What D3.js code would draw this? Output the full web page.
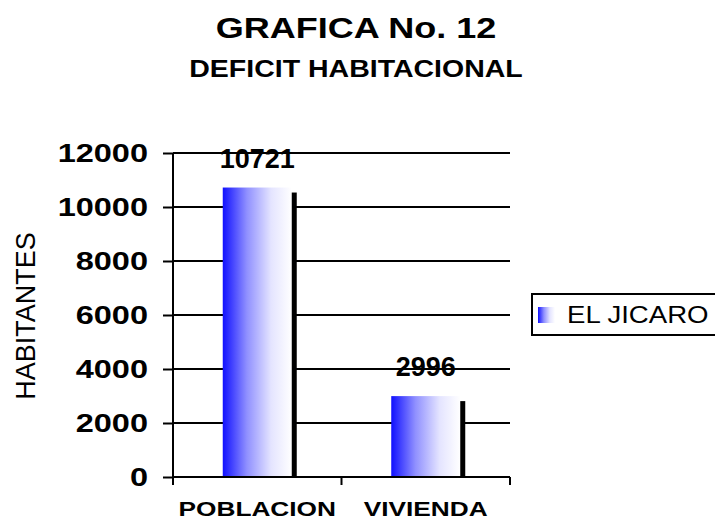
<!DOCTYPE html>
<html>
<head>
<meta charset="utf-8">
<script src="https://cdn.jsdelivr.net/npm/d3@7"></script>
<style>
  body { margin: 0; background: #fff; }
  text { font-family: "Liberation Sans", Arial, sans-serif; fill: #000; }
</style>
</head>
<body>
<div id="chart"></div>
<script>
let categories = ['POBLACION', 'VIVIENDA'];
let values = [10721, 2996];
let yTicks = [0, 2000, 4000, 6000, 8000, 10000, 12000];
let seriesName = 'EL JICARO';

let width = 715;
let height = 523;
let plot = { left: 173, right: 510, top: 153, bottom: 477 };

let svg = d3.select('#chart')
  .append('svg')
  .attr('width', width)
  .attr('height', height);

let grad = svg.append('defs').append('linearGradient')
  .attr('id', 'barGrad')
  .attr('x1', '0%').attr('x2', '100%').attr('y1', '0%').attr('y2', '0%');
[[0, '#1010ff'], [0.35, '#9090ff'], [0.7, '#e4e4ff'], [1, '#ffffff']].forEach(s => {
  grad.append('stop').attr('offset', s[0]).attr('stop-color', s[1]);
});

let x = d3.scaleBand()
  .domain(categories)
  .range([plot.left, plot.right])
  .paddingInner(0)
  .paddingOuter(0);

let y = d3.scaleLinear()
  .domain([0, 12000])
  .range([plot.bottom, plot.top]);

// helper for horizontally stretched text
function label(g, tx, ty, str, size, weight, anchor, sx) {
  return g.append('text')
    .attr('transform', `translate(${tx},${ty}) scale(${sx},1)`)
    .attr('text-anchor', anchor)
    .style('font-size', size + 'px')
    .style('font-weight', weight)
    .text(str);
}

// gridlines
svg.append('g')
  .selectAll('line')
  .data(yTicks.slice(1))
  .enter()
  .append('line')
  .attr('x1', plot.left).attr('x2', plot.right)
  .attr('y1', d => y(d)).attr('y2', d => y(d))
  .attr('stroke', '#000')
  .attr('stroke-width', 2);

// bars
let barW = 69;
let bars = svg.append('g')
  .selectAll('g')
  .data(values)
  .enter()
  .append('g');

bars.append('rect')
  .attr('x', (d, i) => x(categories[i]) + x.bandwidth() / 2 + barW / 2 - 1)
  .attr('y', d => y(d) + 5)
  .attr('width', 6)
  .attr('height', d => plot.bottom - y(d) - 5)
  .attr('fill', '#000');

bars.append('rect')
  .attr('x', (d, i) => x(categories[i]) + x.bandwidth() / 2 - barW / 2)
  .attr('y', d => y(d))
  .attr('width', barW)
  .attr('height', d => plot.bottom - y(d))
  .attr('fill', 'url(#barGrad)');

// axes
let yAxis = svg.append('g')
  .attr('transform', `translate(${plot.left},0)`)
  .call(d3.axisLeft(y).tickValues(yTicks).tickSize(10).tickFormat(''));
let xAxis = svg.append('g')
  .attr('transform', `translate(0,${plot.bottom})`)
  .call(d3.axisBottom(x).tickSize(0).tickFormat(''));
[yAxis, xAxis].forEach(a => {
  a.selectAll('path, line').attr('stroke', '#000').attr('stroke-width', 2);
  a.select('.domain').attr('d', a === yAxis
    ? `M0,${plot.top}V${plot.bottom}`
    : `M${plot.left},0H${plot.right}`);
});

// x category tick marks at band edges
svg.append('g')
  .selectAll('line')
  .data([plot.left].concat(categories.map(c => x(c) + x.bandwidth())))
  .enter()
  .append('line')
  .attr('x1', d => d).attr('x2', d => d)
  .attr('y1', plot.bottom).attr('y2', plot.bottom + 8)
  .attr('stroke', '#000').attr('stroke-width', 2);

let txt = svg.append('g');

// y tick labels
yTicks.forEach(t => label(txt, 148, y(t) + 9, String(t), 25, 'bold', 'end', 1.3));

// value labels
values.forEach((v, i) => label(txt, x(categories[i]) + x.bandwidth() / 2, y(v) - 20, String(v), 27, 'bold', 'middle', 1.0));

// category labels
categories.forEach(c => label(txt, x(c) + x.bandwidth() / 2, 516, c, 21, 'bold', 'middle', 1.25));

// titles
label(txt, 356, 38, 'GRAFICA No. 12', 30, 'bold', 'middle', 1.2);
label(txt, 356, 77, 'DEFICIT HABITACIONAL', 23, 'bold', 'middle', 1.24);

// y axis title
txt.append('text')
  .attr('transform', 'translate(35,316) rotate(-90)')
  .attr('text-anchor', 'middle')
  .style('font-size', '27px')
  .text('HABITANTES');

// legend
let legend = svg.append('g');
legend.append('rect')
  .attr('x', 532).attr('y', 294)
  .attr('width', 200).attr('height', 41)
  .attr('fill', '#fff')
  .attr('stroke', '#000').attr('stroke-width', 2);
legend.append('rect')
  .attr('x', 538).attr('y', 307)
  .attr('width', 17).attr('height', 16)
  .attr('fill', 'url(#barGrad)');
label(legend, 567, 323, seriesName, 23, 'normal', 'start', 1.2);
</script>
</body>
</html>
